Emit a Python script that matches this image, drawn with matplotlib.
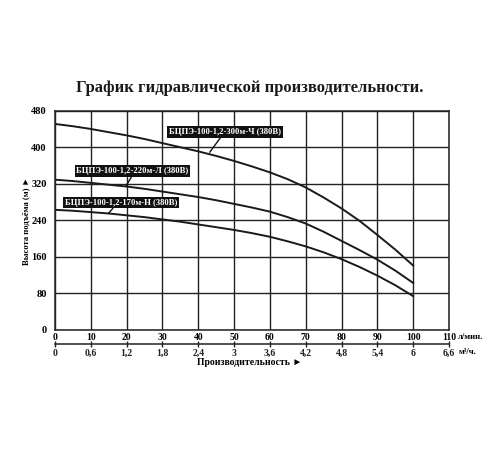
import numpy as np
import matplotlib
matplotlib.use("Agg")
import matplotlib.pyplot as plt

plt.rcParams['font.family'] = ['Liberation Serif', 'DejaVu Serif']
plt.rcParams['font.weight'] = 'bold'

# flow, l/min
flow = [0, 5, 10, 15, 20, 25, 30, 35, 40, 45, 50,
        55, 60, 65, 70, 75, 80, 85, 90, 95, 100]
# head, m
head_300 = [451, 446, 440, 433, 426, 418, 409, 400, 391, 381, 370,
            358, 345, 330, 312, 290, 266, 239, 208, 176, 141]
head_220 = [329, 326, 322, 318, 314, 309, 303, 297, 291, 284, 276,
            268, 259, 247, 233, 215, 195, 175, 154, 130, 103]
head_170 = [263, 261, 258, 255, 251, 247, 242, 237, 231, 225, 219,
            212, 204, 194, 183, 170, 155, 138, 119, 98, 74]

labels = ["БЦПЭ-100-1,2-300м-Ч (380В)",
          "БЦПЭ-100-1,2-220м-Л (380В)",
          "БЦПЭ-100-1,2-170м-Н (380В)"]

x_ticks = list(range(0, 111, 10))
y_ticks = list(range(0, 481, 80))
m3_ticks = [0, 0.6, 1.2, 1.8, 2.4, 3, 3.6, 4.2, 4.8, 5.4, 6, 6.6]
m3_labels = ["0", "0,6", "1,2", "1,8", "2,4", "3", "3,6", "4,2", "4,8", "5,4", "6", "6,6"]

fig = plt.figure(figsize=(5, 4.5), dpi=100)
ax = fig.add_axes([0.11, 0.2667, 0.788, 0.4873])

ax.plot(flow, head_300, color='#1a1a1a', lw=1.4)
ax.plot(flow, head_220, color='#1a1a1a', lw=1.4)
ax.plot(flow, head_170, color='#1a1a1a', lw=1.4)

ax.set_xlim(0, 110)
ax.set_ylim(0, 480)
ax.set_xticks(x_ticks)
ax.set_yticks(y_ticks)
ax.grid(True, color='#222222', lw=1.0)
for s in ax.spines.values():
    s.set_color('#222222')
    s.set_linewidth(1.1)
ax.tick_params(axis='x', length=0, pad=2, labelsize=7)
ax.tick_params(axis='y', length=0, pad=6, labelsize=7.5)

# second scale, m3/h
sec = ax.secondary_xaxis(-0.064, functions=(lambda x: x * 0.06, lambda x: x / 0.06))
sec.set_xticks(m3_ticks)
sec.set_xticklabels(m3_labels)
sec.tick_params(direction='inout', length=5, width=1, pad=1, labelsize=7, colors='#222222')
sec.spines['bottom'].set_linewidth(1.1)
sec.spines['bottom'].set_color('#222222')

ax.text(112.6, -16, "л/мин.", fontsize=6.2, va='center', ha='left')
ax.text(112.6, -48, "м³/ч.", fontsize=6.2, va='center', ha='left')

# curve labels
ann = [(labels[0], 31.8, 433, 43.2, 389, 0.47),
       (labels[1], 6.0, 348, 19.8, 315, 0.5),
       (labels[2], 2.8, 279, 14.9, 255, 0.44)]
for txt, tx, ty, px, py, rp in ann:
    ax.annotate(txt, xy=(px, py), xytext=(tx, ty), ha='left', va='center',
                color='white', fontsize=6.2, fontweight='bold',
                bbox=dict(boxstyle='square,pad=0.2', fc='#111111', ec='none'),
                arrowprops=dict(arrowstyle='-', color='#111111', lw=1.0,
                                relpos=(rp, 0), shrinkA=0, shrinkB=0))

fig.text(0.5, 0.805, "График гидравлической производительности.",
         ha='center', va='center', fontsize=12, fontweight='bold', color='#1a1a1a')
fig.text(0.5, 0.195, "Производительность ►", ha='center', va='center',
         fontsize=7, fontweight='bold')
fig.text(0.052, 0.51, "Высота подъёма (м) ►", ha='center', va='center',
         rotation=90, fontsize=6.2, fontweight='bold')

fig.savefig("out.png", dpi=100, facecolor='white')
